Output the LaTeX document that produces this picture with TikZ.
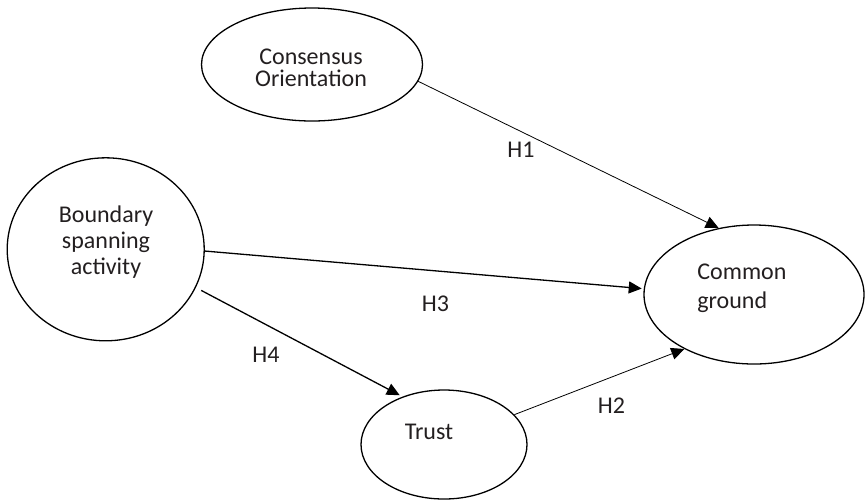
\documentclass[tikz,border=0pt]{standalone}
\usepackage{fontspec}
\setmainfont{Carlito}
\usetikzlibrary{arrows.meta,shapes.geometric}
\definecolor{inkgray}{HTML}{231F20}

\begin{document}
\begin{tikzpicture}[x=0.5pt,y=-0.5pt,>={Triangle[length=6.5pt,width=6pt]},
    construct/.style={ellipse,draw,line width=0.65pt,inner sep=0pt},
    txt/.style={inner sep=0pt,text=inkgray,font=\fontsize{12}{13}\selectfont},
    weak/.style={->,line width=0.4pt},
    strong/.style={->,line width=0.65pt}]
      \useasboundingbox (0,0) rectangle (865,500);
      \node[construct,minimum width=110.5pt,minimum height=56.5pt] (cons) at (312,64.5) {};
      \node[construct,minimum width=98.5pt,minimum height=91.5pt] (bsa) at (105.7,249.3) {};
      \node[construct,minimum width=110pt,minimum height=69.5pt] (cg) at (754,294.5) {};
      \node[construct,minimum width=83pt,minimum height=54.5pt] (trust) at (444,444.5) {};
      \node[txt,align=center,font=\fontsize{12}{11}\selectfont] (consT) at (311,68) {Consensus\\Orientation};
      \node[txt,align=center] (bsaT) at (106,242) {Boundary\\spanning\\activity};
      \node[txt,align=left,anchor=north west,font=\fontsize{12}{14.2}\selectfont] (cgT) at (697,264) {Common\\ground};
      \node[txt] (trustT) at (429,431.5) {Trust};
      \draw[weak] (cons.-9) -- (cg.118);
      \draw[strong,shorten >=1pt] (bsa.-1) -- (cg.177);
      \draw[strong,shorten <=3pt,shorten >=1.5pt] (bsa.-23) -- (trust.131);
      \draw[weak] (trust.23) -- (cg.218);
      \node[txt] (h1) at (521,150) {H1};
      \node[txt] (h2) at (611.5,405.5) {H2};
      \node[txt] (h3) at (435.5,303.5) {H3};
      \node[txt] (h4) at (266,354.5) {H4};
    \end{tikzpicture}
\end{document}
